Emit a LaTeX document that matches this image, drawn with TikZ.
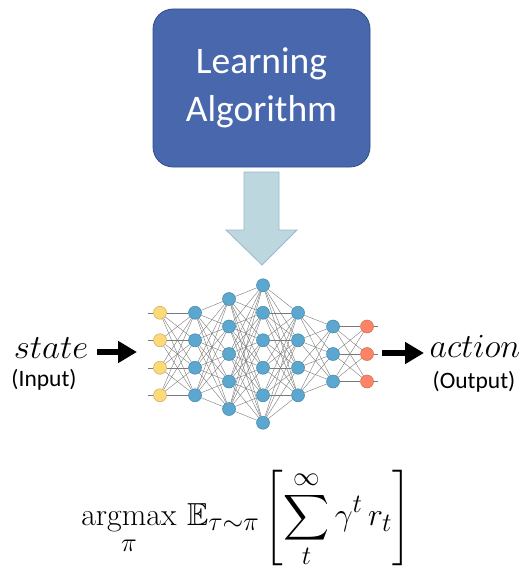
\documentclass[tikz,border=0pt]{standalone}
\usepackage{graphicx}
\usepackage{amsmath,amssymb}
\usepackage{fontspec}
\newfontfamily\calibri{Carlito}
\usetikzlibrary{arrows.meta}
\definecolor{boxblue}{HTML}{4967AC}
\definecolor{boxedge}{HTML}{2F4F8A}
\definecolor{arrfill}{HTML}{BDD7DE}
\definecolor{arredge}{HTML}{9DB5D0}
\definecolor{nyellow}{HTML}{FDD978}
\definecolor{nyellowe}{HTML}{C9A85E}
\definecolor{nblue}{HTML}{5CA7CF}
\definecolor{nbluee}{HTML}{3F86AA}
\definecolor{nred}{HTML}{FB8466}
\definecolor{nrede}{HTML}{D8654B}
\definecolor{edgegray}{HTML}{7A7A7A}
\tikzset{
  algbox/.style={draw=boxedge, line width=0.8pt, fill=boxblue, rounded corners=20pt,
    minimum width=217pt, minimum height=158pt, text=white, align=center,
    font=\calibri\fontsize{37.5}{48}\selectfont},
  blockarrow/.style={draw=arredge, line width=0.8pt, fill=arrfill},
  neuron/.style={circle, inner sep=0pt, minimum size=13pt, line width=0.5pt},
  inn/.style={neuron, fill=nyellow, draw=nyellowe},
  hid/.style={neuron, fill=nblue, draw=nbluee},
  outn/.style={neuron, fill=nred, draw=nrede},
  edge/.style={draw=edgegray, line width=0.4pt},
  bigarrow/.style={line width=6pt, -{Triangle[length=19pt,width=21pt]}},
  smalllbl/.style={font=\calibri\fontsize{23.5}{28}\selectfont},
}
\begin{document}
\begin{tikzpicture}[x=1pt,y=-1pt]
\useasboundingbox (0,0) rectangle (527,572);
% learning algorithm box
\node[algbox] (alg) at (261.5,88) {Learning\\Algorithm};
% block arrow
\draw[blockarrow] (244,172) -- (279,172) -- (279,230) -- (297,230) -- (262,265)
  -- (226,230) -- (244,230) -- cycle;
% neurons
\foreach \l/\x/\n/\s in {1/160/4/inn,2/195/4/hid,3/229/5/hid,4/263/6/hid,5/298/4/hid,6/333/3/hid,7/367/3/outn}{
  \foreach \i in {1,...,\n}{
    \node[\s] (n\l-\i) at (\x,{354+(\i-(\n+1)/2)*27.5}) {};
  }
}
% connections
\foreach \a/\na/\b/\nb in {1/4/2/4,2/4/3/5,3/5/4/6,4/6/5/4,5/4/6/3,6/3/7/3}{
  \foreach \i in {1,...,\na}{
    \foreach \j in {1,...,\nb}{
      \draw[edge] (n\a-\i) -- (n\b-\j);
    }
  }
}
% input / output stubs
\foreach \i in {1,...,4}{
  \coordinate (in\i) at (148,{354+(\i-2.5)*27.5});
  \draw[edge] (in\i) -- (n1-\i);
}
\foreach \i in {1,...,3}{
  \coordinate (out\i) at (378,{354+(\i-2)*27.5});
  \draw[edge] (n7-\i) -- (out\i);
}
% labels
\node[anchor=base] (state) at (51,358) {\scalebox{1.4}[1.36]{\Huge$state$}};
\node[smalllbl] (input) at (44,380) {(Input)};
\node[anchor=base] (action) at (475,357) {\scalebox{1.36}{\Huge$action$}};
\node[smalllbl] (output) at (474,382) {(Output)};
\coordinate (sa1) at (97,352);
\coordinate (sa2) at (137,352);
\coordinate (aa1) at (382,353);
\coordinate (aa2) at (424,353);
\draw[bigarrow] (sa1) -- (sa2);
\draw[bigarrow] (aa1) -- (aa2);
% objective
\node (obj) at (246,519) {\scalebox{1.28}{\Huge
  $\displaystyle \operatorname*{argmax}_{\pi}\, \mathbb{E}_{\tau\sim\pi}\left[\sum_{t}^{\infty}\gamma^{t}\, r_{t}\right]$}};
\end{tikzpicture}
\end{document}
